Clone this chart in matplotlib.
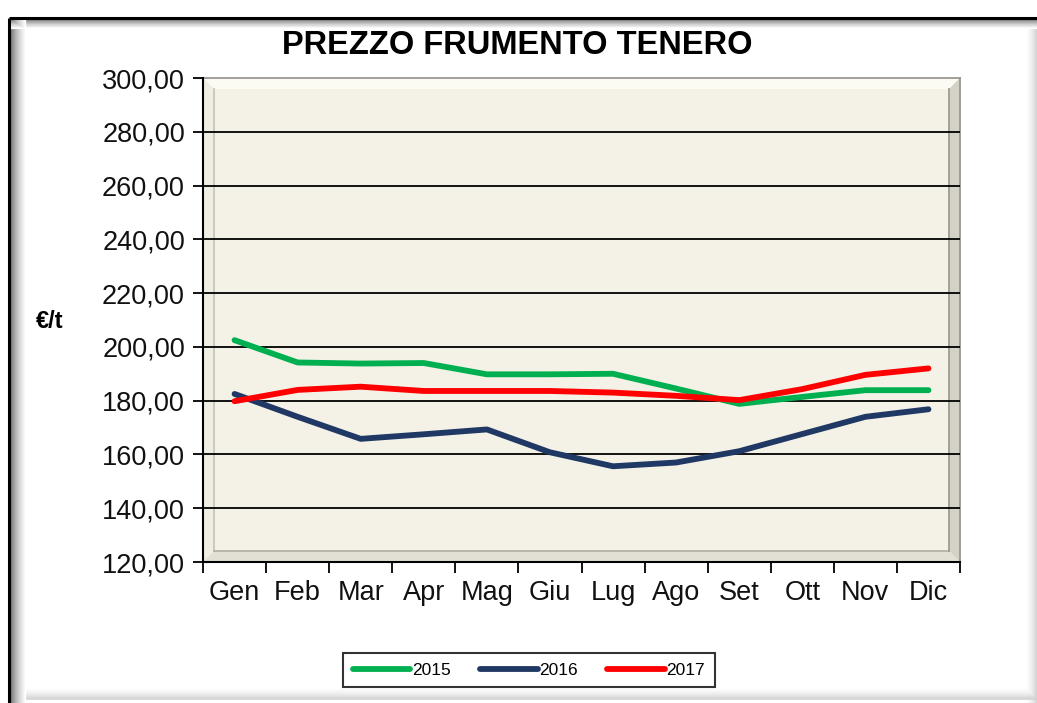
import matplotlib
matplotlib.use("Agg")
import matplotlib.pyplot as plt
from matplotlib.lines import Line2D
from matplotlib.patches import Polygon
from matplotlib.ticker import FixedLocator, FuncFormatter

months = ["Gen", "Feb", "Mar", "Apr", "Mag", "Giu", "Lug", "Ago", "Set", "Ott", "Nov", "Dic"]
prezzo_2015 = [202.5, 194.2, 193.8, 194.0, 189.8, 189.8, 190.0, 184.5, 178.8, 181.4, 183.9, 183.9]
prezzo_2016 = [182.5, 174.0, 165.8, 167.5, 169.3, 160.8, 155.6, 157.0, 161.2, 167.6, 174.0, 176.8]
prezzo_2017 = [179.8, 184.0, 185.2, 183.6, 183.6, 183.6, 183.0, 181.8, 180.2, 184.3, 189.6, 192.0]
griglia = [140, 160, 180, 200, 220, 240, 260, 280]

W, H = 1037, 703
plt.rcParams["font.family"] = ["Liberation Sans", "DejaVu Sans"]

fig = plt.figure(figsize=(W / 100, H / 100), dpi=100)
fig.patch.set_facecolor("white")


def fx(px):
    return px / W


def fy(py):
    return 1 - py / H


def fline(x0, y0, x1, y1, col, lw=1.0):
    fig.add_artist(Line2D([fx(x0), fx(x1)], [fy(y0), fy(y1)], transform=fig.transFigure,
                          color=col, lw=lw, solid_capstyle="butt"))


# outer frame: soft gray at right/bottom, dark left/top edge fading inward
for i in range(12):
    g = 1 - 0.18 * (i / 11) ** 1.5
    fline(10, 688 + i, 1037, 688 + i, (g, g, g), 1.1)
    fline(1026 + i, 19, 1026 + i, 703, (g, g, g), 1.1)
for i in range(1, 16):
    g = 0.35 + 0.65 * (i / 15) ** 0.6
    fline(10 + i, 19, 10 + i, 703, (g, g, g), 0.9)
    fline(10, 19 + i * 0.6, 1037, 19 + i * 0.6, (g, g, g), 0.8)
fline(9, 18, 9, 703, "black", 2.2)
fline(9, 18, 1037, 18, "black", 2.2)

L, R, T, B = 203, 960, 78, 562
ax = fig.add_axes([fx(L), fy(B), fx(R) - fx(L), fy(T) - fy(B)], zorder=2)
ax.set_facecolor("#f4f2e7")

# bevel of the plot area
bw = 11
bevel = [
    ([(L, T), (R, T), (R - bw, T + bw), (L + bw, T + bw)], "#fbfaf3"),
    ([(L, T), (L + bw, T + bw), (L + bw, B - bw), (L, B)], "#f0eee3"),
    ([(R, T), (R, B), (R - bw, B - bw), (R - bw, T + bw)], "#d4d2c6"),
    ([(L, B), (R, B), (R - bw, B - bw), (L + bw, B - bw)], "#e2e0d5"),
]
for pts, col in bevel:
    ax.add_patch(Polygon([(fx(x), fy(y)) for x, y in pts], closed=True, transform=fig.transFigure,
                         facecolor=col, edgecolor="none", zorder=0.2, clip_on=False))
for (x0, y0, x1, y1, col) in [(L + bw, T + bw, L + bw, B - bw, "#c8c6bb"),
                              (L + bw, B - bw, R - bw, B - bw, "#b4b2a7"),
                              (R - bw, T + bw, R - bw, B - bw, "#9e9c92"),
                              (L, T, R, T, "#9a9890"),
                              (R, T, R, B, "#9a9890")]:
    ax.add_line(Line2D([fx(x0), fx(x1)], [fy(y0), fy(y1)], transform=fig.transFigure,
                       color=col, lw=1.3, zorder=0.3, clip_on=False))

x = list(range(len(months)))
ax.hlines(griglia, -0.5, 11.5, color="black", lw=1.3, zorder=1)
ax.plot(x, prezzo_2015, color="#00b050", lw=4.2, label="2015", solid_capstyle="round", zorder=3)
ax.plot(x, prezzo_2016, color="#1f3864", lw=4.2, label="2016", solid_capstyle="round", zorder=3)
ax.plot(x, prezzo_2017, color="#ff0000", lw=4.2, label="2017", solid_capstyle="round", zorder=4)

ax.set_xlim(-0.5, 11.5)
ax.set_ylim(120, 300)
ax.set_yticks(range(120, 301, 20))
ax.yaxis.set_major_formatter(FuncFormatter(lambda v, p: f"{v:.2f}".replace(".", ",")))

ax.xaxis.set_major_locator(FixedLocator([i - 0.5 for i in range(13)]))
ax.xaxis.set_minor_locator(FixedLocator(x))
ax.set_xticklabels([], minor=False)
ax.set_xticklabels(months, minor=True)
ax.tick_params(axis="x", which="major", length=8, width=1.3, color="black")
ax.tick_params(axis="x", which="minor", length=0, pad=13, labelsize=19.5)
ax.tick_params(axis="y", length=7, width=1.3, labelsize=19.5, pad=6)
for lab in ax.get_xticklabels(minor=True) + ax.get_yticklabels():
    lab.set_color("#111111")

ax.spines["top"].set_visible(False)
ax.spines["right"].set_visible(False)
ax.spines["left"].set_linewidth(1.5)
ax.spines["bottom"].set_linewidth(1.5)
ax.spines["left"].set_zorder(5)
ax.spines["bottom"].set_zorder(5)

fig.text(fx(517), fy(45), "PREZZO FRUMENTO TENERO", ha="center", va="center", fontsize=23.5,
         fontweight="bold")
fig.text(fx(50), fy(322), "€/t", ha="center", va="center", fontsize=17, fontweight="bold")

leg = fig.legend(loc="center", bbox_to_anchor=(fx(529), fy(670)), ncol=3, fontsize=12.5,
                 frameon=True, fancybox=False, edgecolor="black", handlelength=3.3,
                 handletextpad=0.1, columnspacing=1.7, borderpad=0.55)
leg.get_frame().set_linewidth(1.5)
for ln in leg.get_lines():
    ln.set_linewidth(4.2)

fig.savefig("out.png", dpi=100)
